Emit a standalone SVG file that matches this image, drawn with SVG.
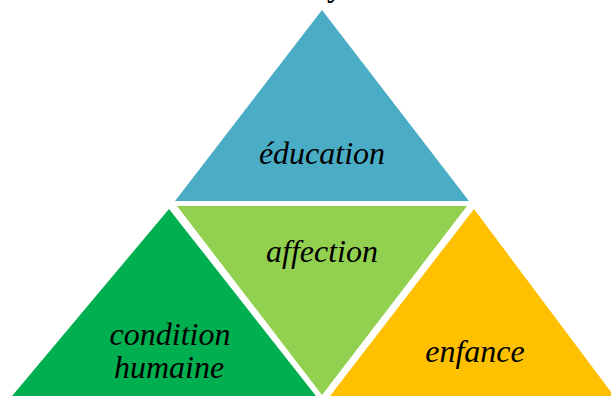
<svg xmlns="http://www.w3.org/2000/svg" width="611" height="396" viewBox="0 0 611 396">
<style>
.lbl{font-family:"Liberation Serif","Times New Roman",serif;font-style:italic;font-size:32px;fill:#000;text-anchor:middle}
</style>
<rect width="611" height="396" fill="#fff"/>
<text x="327" y="-3" font-family="Liberation Serif, serif" font-weight="bold" font-size="30" fill="#000">y</text>
<g id="education">
<polygon points="322,10 175,201 469,201" fill="#4bacc6"/>
<text class="lbl" x="322" y="164">éducation</text>
</g>
<g id="affection">
<polygon points="177,206 467,206 322,395" fill="#92d050"/>
<text class="lbl" x="322" y="262">affection</text>
</g>
<g id="condition">
<polygon points="169,209 12,396 316,396" fill="#00b050"/>
<text class="lbl" x="170" y="345">condition</text>
<text class="lbl" x="169" y="378">humaine</text>
</g>
<g id="enfance">
<polygon points="474,209 330,396 611,396 611,392" fill="#ffc000"/>
<text class="lbl" x="475" y="362">enfance</text>
</g>
</svg>
